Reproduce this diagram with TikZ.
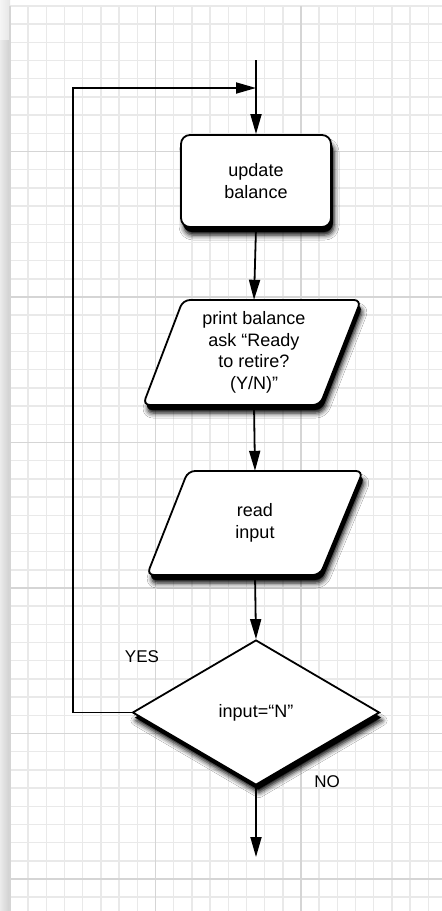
\documentclass[tikz,border=0pt]{standalone}
\usepackage{fontspec}
\setmainfont{Liberation Sans}
\usetikzlibrary{arrows.meta,shapes.geometric,shadows.blur}

\definecolor{gridminor}{gray}{0.915}
\definecolor{gridmajor}{gray}{0.835}

\tikzset{
  flow/.style={draw=black, opacity=1, line width=1.8pt,
    -{Triangle[length=20pt,width=11pt,fill=black]}},
  shapeline/.style={draw=black, line width=1.8pt, fill=white,
    preaction={fill=black, transform canvas={xshift=2pt, yshift=-5pt}},
    blur shadow={shadow xshift=3pt, shadow yshift=-8pt,
                 shadow blur radius=5pt, shadow opacity=100}},
  bodytext/.style={align=center, font=\fontsize{18}{21.5}\selectfont},
  procbox/.style={shapeline, bodytext, rectangle, rounded corners=9pt,
    minimum width=150pt, minimum height=92pt},
  % parallelogram outline, drawn as a path
  ioshape/.style={shapeline, rounded corners=7pt},
  % text of an input/output step; its box spans the parallelogram
  iotext/.style={bodytext, inner sep=0pt, minimum width=178pt},
  testbox/.style={shapeline, bodytext, diamond, aspect=1.7, inner sep=0pt,
    minimum width=247pt, minimum height=145pt},
  tag/.style={font=\fontsize{17}{20}\selectfont, inner sep=0pt}
}

\begin{document}
\begin{tikzpicture}[x=1pt,y=-1pt]
  \useasboundingbox (0,0) rectangle (442,911);
  \clip (0,0) rectangle (442,911);
  \fill[white] (0,0) rectangle (442,911);

  % shadow along the left edge of the sheet
  \shade[left color=black!4, right color=black!10] (0,0) rectangle (10,40);
  \shade[left color=black!8, right color=black!19] (0,40) rectangle (10,911);

  % graph paper
  \foreach \i in {0,...,23}
    \draw[gridminor, line width=1.4pt] ({10+\i*18.1875},6) -- ({10+\i*18.1875},911);
  \foreach \j in {0,...,49}
    \draw[gridminor, line width=1.4pt] (10,{6+\j*18.1875}) -- (442,{6+\j*18.1875});
  \foreach \i in {0,1,2}
    \draw[gridmajor, line width=1.5pt] ({10+\i*145.5},6) -- ({10+\i*145.5},911);
  \foreach \j in {1,...,6}
    \draw[gridmajor, line width=1.5pt] (10,{6+\j*145.5}) -- (442,{6+\j*145.5});

  % flowchart
  \node[procbox] (update) at (256,181) {update\\balance};

  \begin{scope}
    \path[ioshape] (143,405) -- (183,300) -- (361,300) -- (320,405) -- cycle;
  \end{scope}
  \node[iotext, minimum height=105pt] (print) at (254,352.5)
    {print balance\\ask “Ready\\to retire?\\(Y/N)”};

  \begin{scope}
    \path[ioshape] (147,575) -- (188,471) -- (363,471) -- (320,575) -- cycle;
  \end{scope}
  \node[iotext, minimum height=104pt] (read) at (255,523) {read\\input};

  \node[testbox] (test) at (256,712.5) {input=“N”};

  \coordinate (start) at (256,60);
  \coordinate (join) at (256,88);
  \coordinate (back) at (73,88);
  \coordinate (finish) at (256,857);

  \draw[flow] (start) -- (update.north);
  \draw[flow] (update.south) -- (print.north);
  \draw[flow] (print.south) -- (read.north);
  \draw[flow] (read.south) -- (test.north);
  \draw[flow] (test.south) -- (finish);
  \draw[flow] (test.west) -| (back) -- (join);

  \node[tag] (yes) at (142,657) {YES};
  \node[tag] (no) at (327,782) {NO};
\end{tikzpicture}
\end{document}
